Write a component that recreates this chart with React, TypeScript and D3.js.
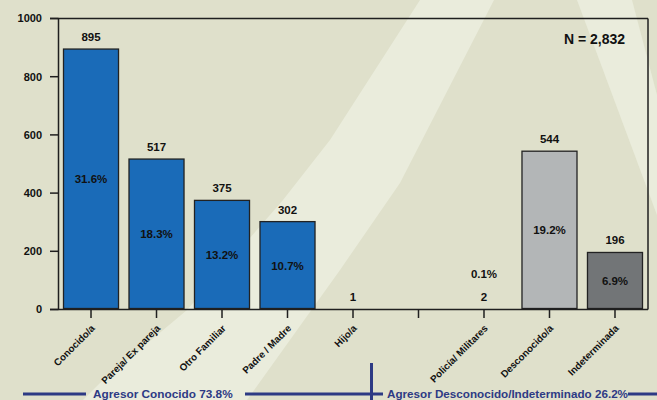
import React from "react";
import * as d3 from "d3";

const categories = [
  "Conocido/a",
  "Pareja/ Ex pareja",
  "Otro Familiar",
  "Padre / Madre",
  "Hijo/a",
  "",
  "Policía/ Militares",
  "Desconocido/a",
  "Indeterminada",
];
const values: (number | null)[] = [895, 517, 375, 302, 1, null, 2, 544, 196];
const percents: (string | null)[] = ["31.6%", "18.3%", "13.2%", "10.7%", null, null, "0.1%", "19.2%", "6.9%"];
const kinds = ["known", "known", "known", "known", "known", "none", "known", "unknown", "undetermined"];
const yTicks = [0, 200, 400, 600, 800, 1000];
const totalLabel = "N = 2,832";
const groupLabels = ["Agresor Conocido 73.8%", "Agresor Desconocido/Indeterminado 26.2%"];

const W = 657;
const H = 400;
const FONT = "'Liberation Sans', Arial, Helvetica, sans-serif";
const AXIS = "#1f1f1f";
const NAVY = "#2d3a84";
const BG = "#dfe0cb";
const LIGHT = "#eaecdc";

const fillFor: Record<string, string> = {
  known: "#1a6bb8",
  unknown: "#b3b6b7",
  undetermined: "#727577",
  none: "none",
};

export default function App() {
  const x = d3
    .scaleBand<number>()
    .domain(d3.range(categories.length))
    .range([58, 648])
    .paddingInner(0.16)
    .paddingOuter(0.084);
  const y = d3.scaleLinear().domain([0, 1000]).range([309.5, 18.5]);
  const bw = x.bandwidth();

  const line = d3.line();
  const ray1 = line([
    [420, 0],
    [494, 0],
    [400, 183],
    [340, 270],
    [247, 400],
    [83, 400],
    [100, 383],
    [187, 310],
    [283, 200],
    [330, 140],
  ]) + "Z";
  const ray2 = line([
    [577, 0],
    [632, 0],
    [657, 95],
    [657, 215],
  ]) + "Z";

  return (
    <svg
      width={W}
      height={H}
      style={{ position: "absolute", left: 0, top: 0, fontFamily: FONT }}
    >
      <rect x={0} y={0} width={W} height={H} fill={BG} />
      <path d={ray1} fill={LIGHT} />
      <path d={ray2} fill={LIGHT} />

      {/* frame */}
      <line x1={50} x2={648} y1={y(1000)} y2={y(1000)} stroke={AXIS} strokeWidth={1.5} />
      <line x1={648} x2={648} y1={y(1000)} y2={y(0)} stroke={AXIS} strokeWidth={1.5} />

      {/* bars */}
      {values.map((v, i) =>
        v == null ? null : (
          <rect
            key={"b" + i}
            x={x(i)}
            y={y(v)}
            width={bw}
            height={Math.max(0, y(0) - y(v) - 1)}
            fill={fillFor[kinds[i]]}
            stroke={y(0) - y(v) > 3 ? "#222" : "none"}
            strokeWidth={1.3}
          />
        )
      )}

      {/* y axis */}
      <line x1={58.5} x2={58.5} y1={y(1000)} y2={y(0)} stroke={AXIS} strokeWidth={1.5} />
      {yTicks.map((t) => (
        <g key={"yt" + t}>
          <line x1={50} x2={58.5} y1={y(t)} y2={y(t)} stroke={AXIS} strokeWidth={1.5} />
          <text
            x={42}
            y={y(t)}
            dy="0.35em"
            textAnchor="end"
            fontSize={11}
            fontWeight="bold"
            fill="#111"
          >
            {t}
          </text>
        </g>
      ))}

      {/* x axis */}
      <line x1={50} x2={648} y1={y(0)} y2={y(0)} stroke={AXIS} strokeWidth={1.5} />
      {categories.map((c, i) => {
        const cx = (x(i) as number) + bw / 2;
        return (
          <g key={"xt" + i}>
            <line x1={cx} x2={cx} y1={y(0)} y2={y(0) + 8.5} stroke={AXIS} strokeWidth={1.5} />
            {c && (
              <text
                transform={`translate(${cx + 2},${y(0) + 17}) rotate(-45)`}
                textAnchor="end"
                dy="0.35em"
                fontSize={9.8}
                fontWeight="bold"
                fill="#111"
              >
                {c}
              </text>
            )}
          </g>
        );
      })}

      {/* value labels */}
      {values.map((v, i) =>
        v == null ? null : (
          <text
            key={"v" + i}
            x={(x(i) as number) + bw / 2}
            y={y(v) - 8}
            textAnchor="middle"
            fontSize={11.5}
            fontWeight="bold"
            fill="#111"
          >
            {v}
          </text>
        )
      )}

      {/* percent labels */}
      {percents.map((p, i) => {
        const v = values[i];
        if (!p || v == null) return null;
        const small = y(0) - y(v) < 20;
        const ly = small ? y(v) - 31 : (y(v) + y(0)) / 2;
        return (
          <text
            key={"p" + i}
            x={(x(i) as number) + bw / 2}
            y={ly}
            dy={small ? 0 : "0.35em"}
            textAnchor="middle"
            fontSize={11.5}
            fontWeight="bold"
            fill="#111"
          >
            {p}
          </text>
        );
      })}

      <text x={625} y={44} textAnchor="end" fontSize={14} fontWeight="bold" fill="#111">
        {totalLabel}
      </text>

      {/* group annotation */}
      <g stroke={NAVY} strokeWidth={3}>
        <line x1={23} x2={86} y1={394} y2={394} />
        <line x1={245} x2={383} y1={394} y2={394} />
        <line x1={371.5} x2={371.5} y1={363} y2={400} />
        <line x1={628} x2={657} y1={394} y2={394} />
      </g>
      <text x={93} y={398} fontSize={11.8} fontWeight="bold" fill={NAVY}>
        {groupLabels[0]}
      </text>
      <text x={387} y={398} fontSize={11.8} fontWeight="bold" fill={NAVY} textLength={241} lengthAdjust="spacingAndGlyphs">
        {groupLabels[1]}
      </text>
    </svg>
  );
}
